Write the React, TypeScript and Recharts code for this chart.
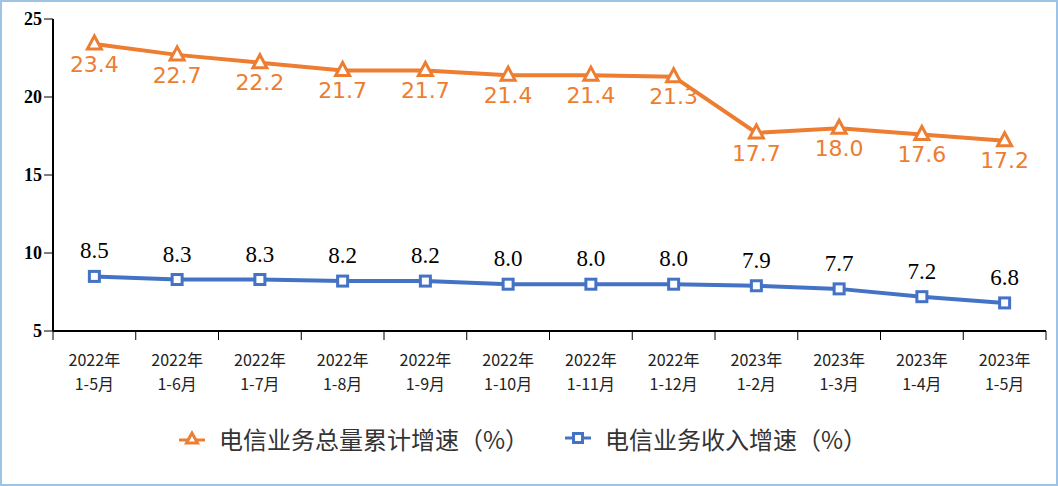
import React from 'react';
import { LineChart, Line, XAxis, YAxis, Legend, LabelList } from 'recharts';

const years = ['2022年', '2022年', '2022年', '2022年', '2022年', '2022年', '2022年', '2022年', '2023年', '2023年', '2023年', '2023年'];
const months = ['1-5月', '1-6月', '1-7月', '1-8月', '1-9月', '1-10月', '1-11月', '1-12月', '1-2月', '1-3月', '1-4月', '1-5月'];
const totalGrowth = [23.4, 22.7, 22.2, 21.7, 21.7, 21.4, 21.4, 21.3, 17.7, 18.0, 17.6, 17.2];
const revenueGrowth = [8.5, 8.3, 8.3, 8.2, 8.2, 8.0, 8.0, 8.0, 7.9, 7.7, 7.2, 6.8];
const yTicks = [5, 10, 15, 20, 25];

const ORANGE = '#ED7D31';
const BLUE = '#4472C4';

const data = months.map((m, i) => ({
  key: i,
  year: years[i],
  month: m,
  total: totalGrowth[i],
  revenue: revenueGrowth[i],
}));

const Triangle = (props: any) => {
  const { cx, cy } = props;
  if (cx == null || cy == null) return null;
  return (
    <polygon
      points={`${cx},${cy - 8} ${cx - 7},${cy + 5} ${cx + 7},${cy + 5}`}
      fill="#fff"
      stroke={ORANGE}
      strokeWidth={3}
    />
  );
};

const Square = (props: any) => {
  const { cx, cy } = props;
  if (cx == null || cy == null) return null;
  return <rect x={cx - 5} y={cy - 5} width={10} height={10} fill="#fff" stroke={BLUE} strokeWidth={3} />;
};

const XTick = (props: any) => {
  const { x, y, payload, index } = props;
  const half = payload?.offset || 41.4;
  const d = data[payload.value];
  return (
    <g>
      <line x1={x - half} y1={y - 8} x2={x - half} y2={y + 1} stroke="#000" strokeWidth={1} />
      {index === data.length - 1 && (
        <line x1={x + half} y1={y - 8} x2={x + half} y2={y + 1} stroke="#000" strokeWidth={1} />
      )}
      <text x={x} y={y + 27} textAnchor="middle" fontSize={16} fill="#222" fontFamily="'Noto Sans CJK SC', sans-serif">
        {d?.year}
      </text>
      <text x={x} y={y + 51} textAnchor="middle" fontSize={16} fill="#222" fontFamily="'Noto Sans CJK SC', sans-serif">
        {d?.month}
      </text>
    </g>
  );
};

const LegendContent = () => (
  <div style={{ display: 'flex', justifyContent: 'center', alignItems: 'center', height: 40, fontFamily: "'Noto Sans CJK SC', sans-serif", fontSize: 24, color: '#333' }}>
    <svg width={26} height={20} style={{ marginRight: 14 }}>
      <line x1={0} y1={12} x2={26} y2={12} stroke={ORANGE} strokeWidth={3} />
      <polygon points="13,5 7.5,15 18.5,15" fill="#fff" stroke={ORANGE} strokeWidth={3} />
    </svg>
    <span style={{ marginRight: 36 }}>电信业务总量累计增速（%）</span>
    <svg width={26} height={20} style={{ marginRight: 14 }}>
      <line x1={0} y1={10} x2={26} y2={10} stroke={BLUE} strokeWidth={3} />
      <rect x={8.5} y={5.5} width={9} height={9} fill="#fff" stroke={BLUE} strokeWidth={3} />
    </svg>
    <span>电信业务收入增速（%）</span>
  </div>
);

export default function App() {
  return (
    <div style={{ position: 'relative', width: 1058, height: 486, background: '#fff' }}>
      <style>{'body{margin:0}'}</style>
      <LineChart
        width={1058}
        height={486}
        data={data}
        margin={{ top: 19, right: 12, left: 0, bottom: 28 }}
      >
        <XAxis
          dataKey="key"
          type="category"
          scale="band"
          height={87}
          axisLine={{ stroke: '#000', strokeWidth: 2 }}
          tickLine={false}
          tick={<XTick />}
          interval={0}
        />
        <YAxis
          domain={[5, 25]}
          ticks={yTicks}
          width={53}
          axisLine={{ stroke: '#000', strokeWidth: 2 }}
          tickLine={{ stroke: '#000' }}
          tickSize={9}
          tick={{ fontSize: 18, fill: '#000', fontWeight: 'bold', fontFamily: "'Liberation Serif', serif" }}
        />
        <Legend verticalAlign="bottom" height={40} content={<LegendContent />} />
        <Line
          dataKey="total"
          stroke={ORANGE}
          strokeWidth={4}
          dot={<Triangle />}
          activeDot={false}
          isAnimationActive={false}
        >
          <LabelList dataKey="total" position="bottom" offset={12} fill={ORANGE} fontSize={22} fontFamily="'DejaVu Sans', sans-serif" formatter={(v: any) => Number(v).toFixed(1)} />
        </Line>
        <Line
          dataKey="revenue"
          stroke={BLUE}
          strokeWidth={4}
          dot={<Square />}
          activeDot={false}
          isAnimationActive={false}
        >
          <LabelList dataKey="revenue" position="top" offset={18} fill="#000" fontSize={23} fontFamily="'Liberation Serif', serif" formatter={(v: any) => Number(v).toFixed(1)} />
        </Line>
      </LineChart>
      <div style={{ position: 'absolute', left: 0, top: 0, width: 1058, height: 486, boxSizing: 'border-box', border: '2px solid #9DC3E6', pointerEvents: 'none' }} />
    </div>
  );
}
